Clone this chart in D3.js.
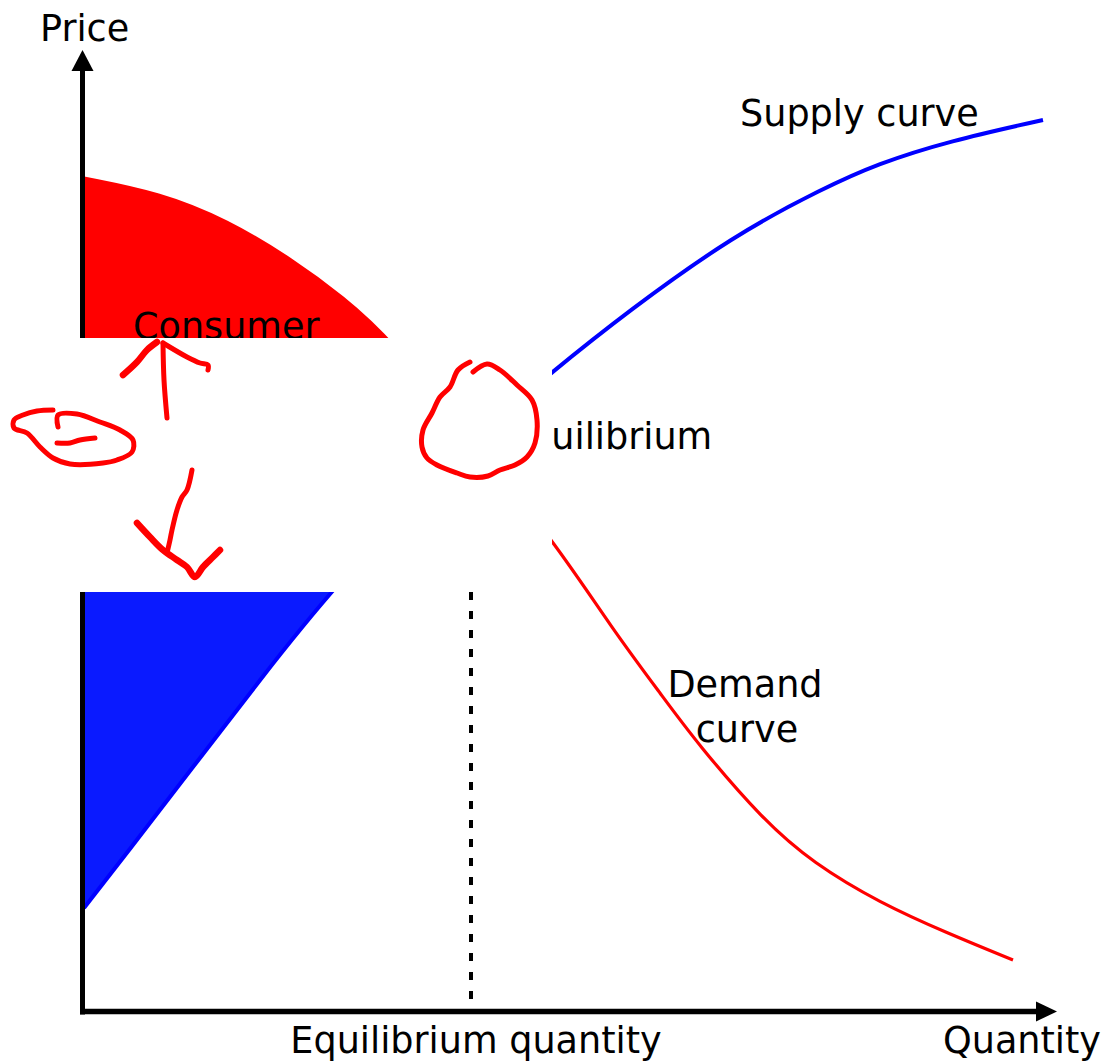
<!DOCTYPE html>
<html>
<head>
<meta charset="utf-8">
<script src="https://cdn.jsdelivr.net/npm/d3@7"></script>
<style>
  html, body { margin: 0; padding: 0; background: #fff; }
  svg text { font-family: "DejaVu Sans", sans-serif; font-size: 36.6px; fill: #000; }
</style>
</head>
<body>
<svg id="chart" width="1107" height="1062"></svg>
<script>
// curves, in (quantity, price) units
var demandQ = [0, 7.6, 14.3, 20.9, 25.9, 30.6, 38.7, 46.8, 52.9, 57.9, 61.3, 67.9, 72.9, 79.6, 86.3, 92.9];
var demandP = [83.4, 81.9, 79.2, 75.2, 71.5, 67.4, 57.2, 47.4, 38.2, 31.5, 26.9, 19.2, 14.9, 10.9, 7.9, 5.2];

var supplyQ = [0, 4.3, 10.9, 17.6, 24.4, 38.7, 46.8, 54.3, 65.0, 74.0, 79.3, 86.5, 95.9];
var supplyP = [10.4, 15.9, 24.5, 33.2, 41.9, 57.2, 64.0, 70.0, 77.7, 82.4, 84.8, 87.1, 89.2];

var eqQ = 38.7;
var eqP = 57.2;

// hand drawn red marks on top of the chart
var scribbles = [
  [[8.3,59.4],[8.0,63.2],[7.9,66.9]],
  [[3.9,63.7],[5.3,65.0],[6.3,66.2],[7.3,67.0]],
  [[7.9,66.9],[10.3,65.5],[11.6,64.9],[12.4,64.7],[12.4,64.2]],
  [[-2.6,58.5],[-2.6,59.7],[-0.7,59.8],[1.6,59.0],[3.6,58.2],[4.9,57.2],[4.8,56.0],[3.3,55.2],[1.9,54.9],[-1.4,54.8],[-3.1,55.4],[-4.4,56.5],[-5.7,57.9],[-7.0,58.4],[-7.0,59.2],[-6.1,59.7],[-4.7,60.1],[-3.1,60.2]],
  [[-2.7,56.9],[-1.4,56.9],[-0.4,57.2],[1.1,57.4]],
  [[10.8,54.2],[10.3,52.2],[9.8,51.5],[9.3,50.2],[8.8,48.2],[8.6,47.2],[8.3,45.9]],
  [[5.3,48.9],[6.6,47.5],[7.9,46.2],[9.3,45.2],[10.3,44.5],[11.1,43.5],[11.9,44.5],[12.9,45.5],[13.6,46.2]],
  [[38.6,65.0],[37.4,64.2],[36.6,62.5],[35.6,61.5],[34.8,59.9],[33.9,58.2],[33.8,56.5],[34.3,55.4],[35.3,54.7],[37.3,53.9],[38.6,53.5],[40.4,53.6],[41.6,54.2],[43.1,54.7],[44.3,55.5],[45.1,56.9],[45.3,59.2],[44.8,61.2],[43.3,62.7],[41.6,64.2],[40.3,64.8],[38.9,64.0]]
];
var scribbleWidths = [5, 6.5, 5, 5, 5, 5, 6.5, 5];

var svg = d3.select('#chart');

var x = d3.scaleLinear().domain([0, 100]).range([84, 1084]);
var y = d3.scaleLinear().domain([0, 100]).range([1012, 12]);

var demand = demandQ.map(function(q, i) { return [q, demandP[i]]; });
var supply = supplyQ.map(function(q, i) { return [q, supplyP[i]]; });

var line = d3.line()
  .x(function(d) { return x(d[0]); })
  .y(function(d) { return y(d[1]); })
  .curve(d3.curveBasis);

var area = d3.area()
  .x(function(d) { return x(d[0]); })
  .y0(y(eqP))
  .y1(function(d) { return y(d[1]); })
  .curve(d3.curveBasis);

// surplus areas
svg.append('path')
  .attr('d', area(demand.filter(function(d) { return d[0] <= eqQ + 9; })))
  .style('fill', '#ff0000');

svg.append('path')
  .attr('d', area(supply.filter(function(d) { return d[0] <= eqQ; })))
  .style('fill', '#0a1aff');

// curves
svg.append('path')
  .attr('d', line(supply))
  .style('fill', 'none')
  .style('stroke', '#0000ff')
  .style('stroke-width', 4);

svg.append('path')
  .attr('d', line(demand))
  .style('fill', 'none')
  .style('stroke', '#ff0000')
  .style('stroke-width', 3.2);

svg.append('line')
  .attr('x1', x(eqQ)).attr('x2', x(eqQ))
  .attr('y1', y(eqP)).attr('y2', y(0))
  .style('stroke', '#000')
  .style('stroke-width', 4)
  .style('stroke-dasharray', '8,11');

// axes with arrow heads
var axisX0 = x(0) - 1.5;
var axisY0 = y(0) - 0.5;
svg.append('line')
  .attr('x1', axisX0).attr('x2', axisX0)
  .attr('y1', axisY0 + 3).attr('y2', 66)
  .style('stroke', '#000').style('stroke-width', 5);
svg.append('path')
  .attr('d', `M${axisX0},50 L${axisX0 - 11},71 L${axisX0 + 11},71 Z`)
  .style('fill', '#000');

svg.append('line')
  .attr('x1', axisX0 - 2.5).attr('x2', 1040)
  .attr('y1', axisY0).attr('y2', axisY0)
  .style('stroke', '#000').style('stroke-width', 5.5);
svg.append('path')
  .attr('d', `M1057,${axisY0} L1036,${axisY0 - 10} L1036,${axisY0 + 10} Z`)
  .style('fill', '#000');

// labels
svg.append('text').attr('x', 40).attr('y', 41).text('Price');
svg.append('text').attr('x', 740).attr('y', 126).text('Supply curve');
svg.append('text').attr('x', 133).attr('y', 339).text('Consumer');
svg.append('text').attr('x', 505).attr('y', 449).text('Equilibrium');
svg.append('text').attr('x', 745).attr('y', 697).style('text-anchor', 'middle').text('Demand');
svg.append('text').attr('x', 747).attr('y', 742).style('text-anchor', 'middle').text('curve');
svg.append('text').attr('x', 476).attr('y', 1053).style('text-anchor', 'middle').text('Equilibrium quantity');
svg.append('text').attr('x', 1022).attr('y', 1053).style('text-anchor', 'middle').text('Quantity');

// white band pasted over the middle
svg.append('rect')
  .attr('x', 0).attr('y', 338)
  .attr('width', 552).attr('height', 254)
  .style('fill', '#fff');

var scribbleLine = d3.line()
  .x(function(d) { return x(d[0]); })
  .y(function(d) { return y(d[1]); })
  .curve(d3.curveCatmullRom);

svg.selectAll('path.scribble')
  .data(scribbles)
  .enter().append('path')
  .attr('class', 'scribble')
  .attr('d', scribbleLine)
  .style('fill', 'none')
  .style('stroke', '#ff0000')
  .style('stroke-width', function(d, i) { return scribbleWidths[i]; })
  .style('stroke-linecap', 'round')
  .style('stroke-linejoin', 'round');
</script>
</body>
</html>
